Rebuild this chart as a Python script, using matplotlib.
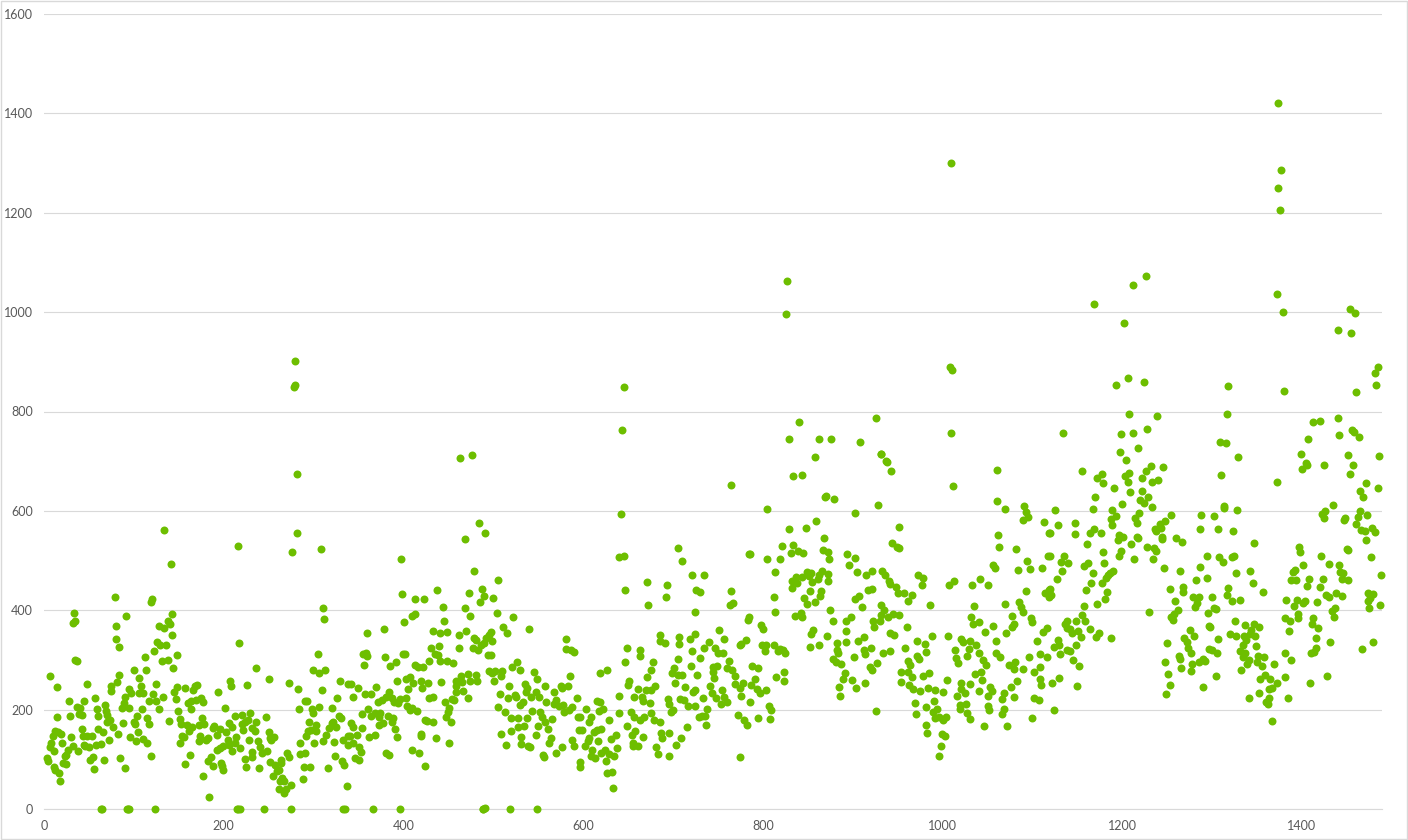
import matplotlib
matplotlib.use('Agg')
import matplotlib.pyplot as plt
from matplotlib.patches import Rectangle

# values, one list per stretch of the x axis
part1 = [(3,103),(4,96),(7,267),(7,124),(8,133),(10,147),(12,156),(11,116),(11,84),(12,78),(14,245),(15,186),(17,72),(18,56),(16,155),
(19,151),(20,133),(21,92),(23,106),(24,91),(25,109),(27,119),(28,218),(29,188),(30,144),(32,127),(32,375),(34,379),(33,395),(35,299),
(37,297),(37,205),(40,203),(39,192),(42,190),(38,116),(42,162),(43,147),(45,218),(44,129),(48,146),(48,251),(46,126),(50,125),(53,146),
(51,99),(54,105),(56,80),(57,223),(58,129),(59,201),(60,188),(60,162),(63,131),(63,0),(66,154),(67,98),(68,210),(69,198),(70,190),
(70,176),(73,180),(72,138),(75,247),(75,237),(77,165),(79,426),(80,369),(80,342),(81,255),(82,151),(83,269),(84,327),(85,102),(87,203),
(88,174),(89,213),(90,225),(90,82),(91,389),(93,0),(95,204),(95,241),(97,233),(96,144),(100,279),(100,176),(101,172),(102,136),(104,188),
(105,154),(106,263),(108,247),(106,233),(109,201),(110,233),(110,141),(112,305),(113,279),(115,183),(115,132),(117,171),(119,416),(120,422),(117,217),
(119,106),(121,231),(122,317),(123,0),(125,217),(125,251),(126,337),(128,201),(129,330),(128,369),(133,365),(131,297),(132,225),(134,562),(136,331),
(138,379),(138,300),(139,178),(140,372),(141,494),(142,393),(143,351),(144,283),(145,235),(147,221),(148,309),(148,245),(149,198),(151,133),(151,181),
(153,172),(154,146),(156,145),(157,243),(157,90),(159,170),(160,214),(162,109),(161,156),(164,218),(164,201),(166,240),(165,166),(170,249),(168,247),
(169,220),(172,136),(173,170),(175,223),(177,215),(176,184),(177,66),(174,146),(178,172),(180,139),(182,143),(184,25),(183,96),(186,105),(188,86),
(188,163),(189,168),(192,149),(194,235),(196,161),(193,118),(196,123),(199,126),(197,92),(198,86),(199,78),(201,203),(203,155),(205,139),(206,129),
(206,173),(207,257),(208,247),(209,166),(209,116),(212,133),(213,188),(214,145),(216,0),(216,530),(217,335),(218,123),(220,190),(220,172),(222,160),
(224,176),(224,101),(225,84),(226,249),(227,180),(228,139),(229,194),(231,163),(232,114),(232,105),(235,156),(236,283),(236,176),(238,136),(239,82),
(240,125),(245,0),(243,113),(247,186),(250,155),(248,116),(250,261),(252,143),(253,139),(256,145),(252,94),(257,88),(255,67),(259,76),(261,78),
(261,40),(264,99),(264,92),(263,56),(265,62),(267,56),(267,32),(269,40),(270,113),(273,105),(273,253),(275,48),(275,0),(276,518),(281,556),
(283,241),(284,201),(285,111),(285,133),(288,60),(289,84),(291,218),(291,112),(293,218),(292,146),(295,176),(294,156),(296,84),(297,160),(298,201),
(299,193),(299,280),(301,133),(303,170),(303,156),(305,311),(306,273),(308,524),(306,206),(309,239),(310,136),(311,405),(312,383),(313,279),(314,149),
(316,82),(317,163),(320,173),(321,203),(324,106),(323,134),(322,176),(326,223),(325,165),(328,188),(330,183),(329,257),(332,96),(333,139),(334,88),
(337,46),(333,0),(338,252),(338,146),(338,129)]

part2 = [(342,251),(344,226),(349,243),(354,191),(342,174),(344,166),(354,163),(340,146),(348,148),(344,133),(350,125),(353,114),(346,103),(351,99),(362,145),
(368,149),(357,231),(364,231),(356,290),(355,312),(358,314),(360,307),(359,354),(366,0),(361,201),(364,188),(368,193),(370,245),(372,215),(374,193),
(373,186),(373,170),(377,174),(376,220),(378,363),(380,305),(384,235),(381,226),(383,188),(388,184),(387,176),(381,113),(384,109),(385,287),(387,223),
(391,161),(392,296),(393,257),(393,145),(390,216),(394,213),(396,222),(396,0),(397,503),(398,432),(401,376),(399,311),(402,311),(403,262),(407,265),
(403,223),(405,241),(404,208),(407,200),(409,203),(410,119),(409,389),(413,393),(413,422),(413,289),(416,285),(411,253),(419,257),(415,197),(417,113),
(420,151),(420,147),(423,422),(422,285),(421,243),(424,180),(426,178),(424,86),(427,253),(429,224),(433,225),(429,298),(431,325),(433,359),(435,312),
(433,175),(437,440),(438,310),(440,329),(441,355),(441,297),(442,255),(436,143),(444,407),(445,379),(448,357),(449,298),(446,215),(451,203),(450,196),
(447,185),(451,133),(454,221),(453,176),(455,294),(456,220),(458,257),(458,247),(459,235),(462,324),(462,351),(464,267),(465,255),(466,237),(468,405),
(469,543),(470,359),(472,271),(472,223),(473,434),(474,257),(474,389),(477,325),(478,344),(479,480),(481,340),(483,319),(481,270),(482,257),(484,575),
(485,416),(487,442),(486,330),(490,335),(490,428),(491,555),(489,0),(492,344),(495,351),(494,310),(497,310),(498,356),(495,277),(499,338),(500,424),
(499,273),(502,277),(501,257),(504,394),(505,460),(507,231),(505,206),(510,277),(509,267),(509,151),(511,366),(515,355),(513,195),(514,129),(517,247),
(516,223),(520,157),(519,1),(520,184),(522,386),(521,285),(526,296),(524,230),(525,225),(527,183),(528,166),(530,279),(530,210),(533,216),(531,145),
(531,131),(534,168),(535,251),(537,243),(536,235),(538,183),(540,363),(539,127),(541,124),(542,225),(543,198),(545,275),(547,235),(549,0),(549,261),
(548,148),(551,226),(550,168),(552,196),(554,186),(555,109),(556,105),(558,247),(558,176),(561,162),(559,216),(564,143),(565,181),(562,133),(568,235),
(567,212),(570,220),(570,113),(573,208),(575,247),(577,243),(577,125),(579,196),(578,210),(581,342),(581,322),(583,247),(584,200),(585,267),(586,320),
(588,206),(590,315),(588,138),(590,126),(593,223),(594,186),(597,186),(595,158),(599,158),(597,95),(597,84),(603,201),(602,126),(605,136),(606,143),
(609,185),(606,176),(610,118),(609,106),(613,102),(612,155),(615,158),(616,136),(615,218),(619,216),(619,273),(618,198),(620,161),(620,113),(622,201),
(624,119),(625,96),(626,72),(627,279),(629,111),(629,180),(631,141),(632,74),(634,106),(633,42),(636,149),(638,123),(640,194),(640,227),(640,507),
(646,510),(642,593),(647,440),(649,324),(647,296),(649,168),(651,257),(650,250),(653,196),(657,225),(657,186),(658,156),(654,148),(656,133),(656,126),
(661,127),(661,242),(663,180),(663,320),(663,307),(666,225),(667,218),(668,185),(667,145),(670,240),(671,265),(671,456),(672,410),(674,213),(675,193),
(676,240),(676,280),(678,295),(680,247),(679,180),(685,176),(681,125),(683,111),(686,351),(686,339),(691,335),(692,426),(693,450),(687,153),(688,143),
(695,153),(694,222),(696,211),(698,196),(696,106),(700,200),(702,253),(701,284),(699,273),(705,269),(705,301),(703,128),(709,143),(706,526),(710,500),
(707,347),(707,332),(708,221),(710,269),(712,220),(713,245),(717,208),(716,166),(721,470),(726,440),(721,317),(720,287),(719,342),(722,235),(725,240),
(724,208),(725,397),(725,352),(727,270),(729,186)]

part3 = [(734,470),(730,437),(764,653),(765,438),(763,410),(767,414),(785,513),(786,513),(805,604),(805,504),(814,476),(812,427),(814,397),(785,387),(784,380),
(798,370),(800,362),(751,361),(757,342),(740,337),(735,324),(747,325),(750,313),(756,313),(730,303),(762,298),(749,288),(745,286),(745,276),(760,283),
(766,279),(746,264),(769,268),(776,333),(781,341),(774,330),(788,288),(795,283),(791,262),(799,331),(804,331),(802,318),(812,330),(819,323),(817,317),
(825,314),(822,320),(815,266),(823,276),(824,258),(769,251),(774,243),(778,253),(787,249),(793,241),(797,234),(803,240),(741,248),(755,240),(743,233),
(748,224),(757,225),(760,216),(753,212),(733,223),(776,227),(786,216),(738,202),(736,188),(732,187),(772,190),(779,180),(782,170),(795,184),(807,208),
(809,199),(808,182),(737,169),(774,105),(829,564),(834,671),(844,673),(858,708),(869,628),(879,624),(848,566),(859,580),(821,529),(834,532),(819,504),
(831,515),(839,519),(845,515),(868,546),(867,522),(873,518),(874,504),(894,513),(902,505),(896,491),(903,596),(928,612),(932,715),(938,698),(943,680),
(952,568),(944,535),(949,527),(951,525),(905,477),(915,471),(922,480),(933,480),(936,470),(940,459),(942,452),(948,447),(973,470),(978,464),(977,450),
(957,435),(950,434),(966,430),(961,419),(832,444),(832,459),(837,467),(838,454),(843,466),(849,477),(851,468),(854,475),(855,457),(861,462),(862,470),
(866,478),(872,472),(873,459),(853,439),(865,439),(864,429),(846,424),(849,412),(858,416),(836,389),(842,395),(844,387),(875,400),(878,379),(856,360),
(854,353),(852,326),(863,331),(871,349),(882,334),(883,320),(884,313),(878,301),(881,295),(887,291),(891,273),(889,261),(885,246),(886,227),(899,259),
(904,243),(914,253),(901,305),(893,337),(892,359),(893,379),(898,387),(907,429),(903,422),(910,407),(917,440),(922,442),(906,338),(912,347),(912,320),
(914,312),(920,324),(919,286),(921,279),(927,293),(934,313),(942,317),(923,378),(924,367),(930,378),(931,390),(932,411),(935,401),(939,387),(945,393),
(952,391),(941,355),(946,351),(960,367),(958,325),(972,339),(988,349),(980,332),(981,315),(971,308),(974,301),(961,298),(964,290),(954,276),(962,276),
(966,266),(978,268),(985,273),(954,255),(963,249),(967,241),(975,238),(984,243),(991,240),(1000,235),(1005,260),(990,218),(969,214),(981,206),(970,192),
(989,196),(994,202),(991,184),(996,186),(1001,180),(1004,186),(982,170),(983,152),(999,150),(1003,147),(998,127),(996,107),(926,198),(1012,651),(1007,450),
(1013,459),(986,410),(1006,349),(1060,683),(1061,619),(1069,604),(1091,610),(1093,598),(1095,588),(1090,582),(1113,578),(1118,556),(1117,509),(1062,552),(1063,527),
(1082,524),(1094,499),(1056,492),(1058,486),(1084,482),(1097,484),(1111,486),(1042,463),(1033,450),(1050,450),(1093,439),(1114,434),(1118,440),(1118,427),(1070,413),
(1035,409),(1085,417),(1087,407),(1089,397),(1032,387),(1077,389),(1034,373),(1041,377),(1056,369),(1047,357),(1079,373),(1077,367),(1071,355),(1098,385),(1099,377),
(1116,365),(1112,357),(1021,343),(1023,336),(1031,338),(1037,330),(1059,338),(1105,338),(1014,321),(1029,323),(1027,308),(1040,313),(1059,313),(1064,305),(1096,306),
(1108,312),(1116,306),(1015,303),(1017,293),(1045,300),(1048,290),(1074,290),(1081,296),(1079,282),(1089,281),(1108,286),(1102,276),(1036,271),(1043,276),(1044,259),
(1083,258),(1108,261),(1021,253),(1030,252),(1020,241),(1025,234),(1040,238),(1053,245),(1055,238),(1076,245),(1110,249),(1016,227),(1050,227),(1068,233),(1066,222),
(1080,225),(1102,223),(1107,220),(1019,210),(1026,212),(1051,208),(1019,202),(1052,199),(1068,201),(1066,192),(1027,194),(1030,182),(1100,184),(1046,168),(1072,168)]

part4 = [(1134,757),(1208,794),(1239,791),(1199,755),(1212,757),(1228,765),(1217,727),(1197,718),(1204,703),(1232,690),(1245,689),(1155,681),(1226,681),(1177,675),(1207,677),
(1203,671),(1172,666),(1222,667),(1178,656),(1206,658),(1233,658),(1240,663),(1191,647),(1209,637),(1222,641),(1170,628),(1229,628),(1220,621),(1224,615),(1200,614),
(1233,608),(1125,602),(1167,603),(1188,602),(1219,596),(1193,590),(1214,586),(1187,584),(1216,576),(1128,572),(1147,576),(1189,572),(1254,592),(1247,580),(1242,574),
(1236,564),(1243,566),(1237,560),(1120,556),(1169,564),(1164,556),(1176,556),(1147,554),(1161,534),(1196,552),(1195,542),(1201,548),(1210,534),(1216,548),(1218,546),
(1244,548),(1244,544),(1227,528),(1235,525),(1238,519),(1179,517),(1198,520),(1196,509),(1213,504),(1234,504),(1120,509),(1135,510),(1132,498),(1140,495),(1180,496),
(1162,496),(1157,490),(1246,486),(1133,479),(1167,474),(1190,478),(1186,474),(1184,470),(1182,465),(1127,463),(1165,454),(1177,454),(1120,442),(1121,430),(1160,440),
(1183,436),(1181,422),(1172,412),(1157,409),(1155,391),(1230,397),(1158,378),(1149,379),(1139,379),(1136,373),(1138,365),(1142,363),(1144,355),(1151,359),(1154,346),
(1164,363),(1174,355),(1171,347),(1187,345),(1128,341),(1129,330),(1124,327),(1148,330),(1138,321),(1142,317),(1131,311),(1145,299),(1152,287),(1130,263),(1122,254),
(1150,247),(1124,200),(1260,546),(1266,538),(1264,479),(1253,443),(1267,446),(1268,437),(1259,418),(1262,400),(1257,393),(1254,387),(1256,381),(1250,335),(1248,295),
(1251,271),(1253,250),(1249,231),(1275,361),(1280,349),(1269,345),(1272,336),(1273,325),(1276,313),(1263,308),(1264,302),(1265,283),(1278,291),(1277,277),(1285,296),
(1290,301),(1292,298),(1296,322),(1300,319),(1305,314),(1306,343),(1290,245),(1304,267),(1295,395),(1302,405),(1304,403),(1297,369),(1298,366),(1279,426),(1285,427),
(1300,427),(1283,415),(1281,407),(1282,461),(1294,464),(1286,488),(1294,510),(1288,592),(1302,590),(1287,564),(1307,564),(1313,610),(1313,606),(1309,739),(1315,737),
(1316,794),(1329,708),(1310,673),(1328,602),(1323,560),(1308,507),(1312,497),(1322,508),(1324,510),(1327,474),(1346,535),(1342,479),(1345,454),(1357,437),(1318,444),
(1317,431),(1322,419),(1331,421),(1372,658),(1325,379),(1320,353),(1326,349),(1336,371),(1347,373),(1352,367),(1343,360),(1342,353),(1348,349),(1335,349),(1338,341),
(1334,331),(1349,328),(1331,317),(1334,306),(1337,313),(1351,308),(1358,305),(1341,299),(1339,292),(1350,295),(1355,288),(1369,292),(1332,279),(1359,269),(1353,261),
(1364,261),(1372,253),(1367,243),(1363,242),(1381,265),(1352,233),(1341,223),(1363,223),(1360,216),(1362,211),(1384,223),(1367,178),(1381,314),(1388,299),(1385,359),
(1381,385),(1387,379),(1395,393),(1396,385),(1382,420),(1394,421),(1391,409),(1388,460),(1393,460),(1390,476),(1392,481),(1401,492),(1397,527),(1398,517),(1400,685),
(1404,697),(1405,692),(1399,715),(1407,745),(1412,779),(1420,781),(1425,693),(1440,787),(1441,753),(1456,762),(1458,759),(1463,749),(1451,713),(1457,693),(1453,675),
(1471,656),(1464,639),(1468,627),(1484,647),(1486,710),(1434,612),(1422,594),(1426,599),(1424,586),(1448,586),(1447,582),(1465,599),(1462,588),(1472,592),(1460,574),
(1466,562),(1470,560),(1478,566),(1481,558),(1471,542),(1408,462),(1406,449),(1423,462),(1420,447),(1421,509),(1430,494),(1441,491),(1442,476),(1446,474),(1445,463),
(1451,461),(1450,523),(1451,521),(1477,508),(1488,470),(1473,435),(1479,433),(1476,424),(1473,418),(1475,405),(1487,411),(1417,417),(1401,415),(1403,418),(1427,430),
(1430,426),(1438,435),(1444,429),(1437,405),(1433,399),(1436,386),(1412,385),(1411,373),(1418,365),(1415,344),(1431,336),(1416,325),(1413,316),(1410,314),(1428,267),
(1409,254),(1479,336),(1467,323)]

# the high ones
peaks = [(279,902),(279,853),(278,849),(282,674),(463,706),(476,712),(643,763),(645,849),(827,1063),(826,996),(829,745),(840,779),(863,745),(876,745),(870,630),
(908,738),(926,787),(931,714),(937,700),(1009,1300),(1008,889),(1010,884),(1009,757),(1168,1016),(1202,978),(1212,1055),(1226,1073),(1193,853),(1206,867),(1224,859),
(1373,1421),(1377,1286),(1373,1250),(1376,1205),(1372,1036),(1379,1000),(1380,841),(1318,851),(1440,964),(1453,1006),(1459,998),(1455,958),(1460,839),(1482,853),(1481,877),(1485,889)]

# the zero days that sit doubled on the axis
zeros = [(65,0),(92,0),(95,0),(215,0),(218,0),(335,0),(488,0),(491,2)]

x_ticks = [0, 200, 400, 600, 800, 1000, 1200, 1400]
y_ticks = [0, 200, 400, 600, 800, 1000, 1200, 1400, 1600]

plt.rcParams['font.family'] = ['Lato', 'DejaVu Sans']

W, H = 1408, 840
fig = plt.figure(figsize=(W / 100, H / 100), dpi=100)
ax = fig.add_axes([44 / W, 1 - 809 / H, (1382 - 44) / W, (809 - 14) / H])

all_points = part1 + part2 + part3 + part4 + peaks + zeros
xs = [p[0] for p in all_points]
ys = [p[1] for p in all_points]
ax.scatter(xs, ys, s=33, color='#6DBE00', linewidths=0, zorder=3, clip_on=False)

ax.set_xlim(0, 1489)
ax.set_ylim(0, 1600)
ax.set_xticks(x_ticks)
ax.set_yticks(y_ticks)
ax.grid(axis='y', color='#D9D9D9', linewidth=0.8)
ax.set_axisbelow(True)
for s in ['top', 'right', 'left']:
    ax.spines[s].set_visible(False)
ax.spines['bottom'].set_color('#D9D9D9')
ax.spines['bottom'].set_linewidth(0.8)
ax.tick_params(length=0, labelsize=9, labelcolor='#595959', pad=8)

# thin frame round the whole picture
fig.add_artist(Rectangle((0.0005, 0.001), 0.9985, 0.998, transform=fig.transFigure, fill=False, edgecolor='#D9D9D9', linewidth=1))

fig.savefig('out.png', dpi=100)
